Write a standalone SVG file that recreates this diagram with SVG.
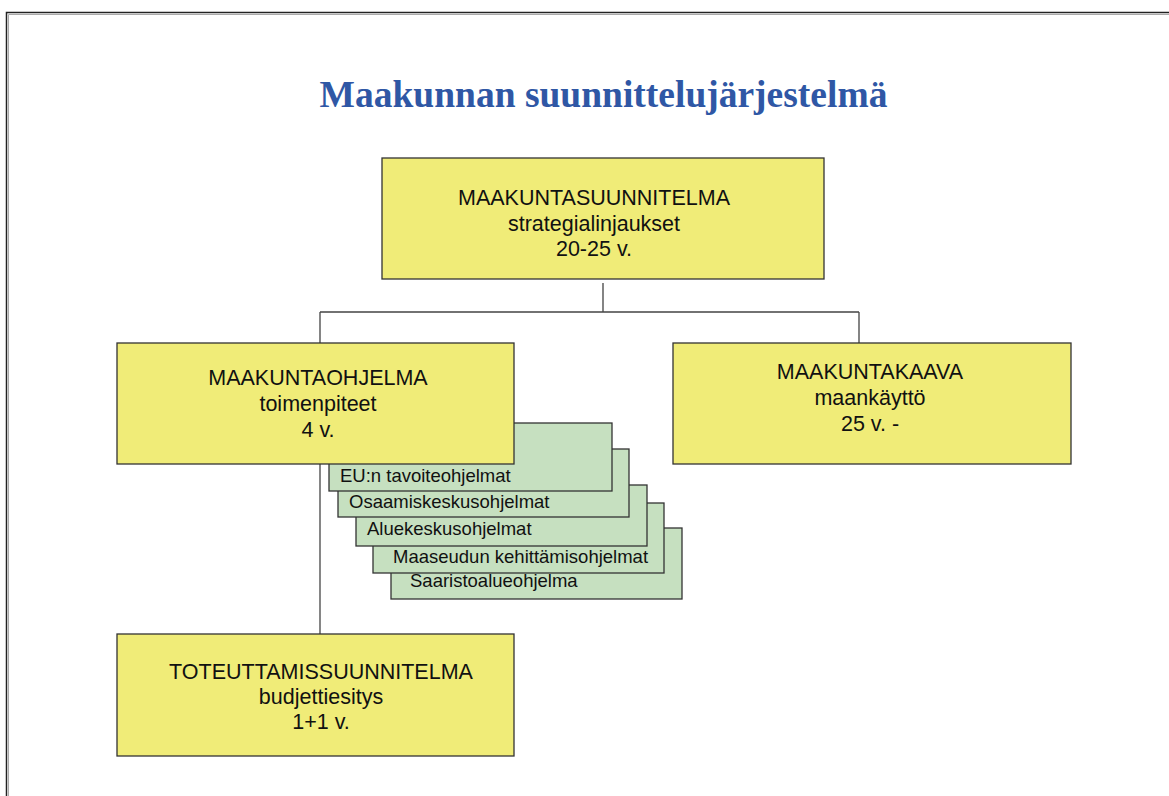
<svg xmlns="http://www.w3.org/2000/svg" width="1169" height="796" viewBox="0 0 1169 796">
<style>
.frame{fill:none;stroke:#222;stroke-width:1.5}
.frame2{fill:none;stroke:#aaa;stroke-width:1}
.y{fill:#F0EC78;stroke:#333;stroke-width:1.3}
.g{fill:#C6E0C0;stroke:#333;stroke-width:1.3}
.conn{fill:none;stroke:#444;stroke-width:1.3}
.t{font-family:"Liberation Sans",Arial,sans-serif;font-size:21.5px;fill:#111;text-anchor:middle}
.gt{font-family:"Liberation Sans",Arial,sans-serif;font-size:18.5px;fill:#111}
.title{font-family:"Liberation Serif","Times New Roman",serif;font-weight:bold;font-size:37.5px;fill:#2F57A5;text-anchor:middle}
</style>
<rect width="1169" height="796" fill="#fff"/>
<rect class="frame" x="6.5" y="12.5" width="1200" height="820"/>
<path class="frame2" d="M8.5 832V14.5H1200"/>
<text class="title" x="603.5" y="107">Maakunnan suunnittelujärjestelmä</text>
<g id="connectors">
<path class="conn" d="M603 283V312M320 312H859M320 312V343M859 312V343"/>
<path class="conn" d="M320 464V634"/>
</g>
<g id="top">
<rect class="y" x="382" y="158" width="442" height="121"/>
<text class="t" x="594" y="205">MAAKUNTASUUNNITELMA</text>
<text class="t" x="594" y="230.5">strategialinjaukset</text>
<text class="t" x="594" y="256">20-25 v.</text>
</g>
<g id="kaava">
<rect class="y" x="673" y="343" width="398" height="121"/>
<text class="t" x="870" y="379">MAAKUNTAKAAVA</text>
<text class="t" x="870" y="405">maankäyttö</text>
<text class="t" x="870" y="431">25 v. -</text>
</g>
<g id="saaristo">
<rect class="g" x="391" y="528" width="291" height="71"/>
<text class="gt" x="410" y="587">Saaristoalueohjelma</text>
</g>
<g id="maaseutu">
<rect class="g" x="373" y="503" width="291" height="70"/>
<text class="gt" x="393" y="563">Maaseudun kehittämisohjelmat</text>
</g>
<g id="aluekeskus">
<rect class="g" x="356" y="485" width="291" height="61"/>
<text class="gt" x="367" y="535">Aluekeskusohjelmat</text>
</g>
<g id="osaamis">
<rect class="g" x="338" y="449" width="291" height="68"/>
<text class="gt" x="349" y="508">Osaamiskeskusohjelmat</text>
</g>
<g id="eu">
<rect class="g" x="329" y="423" width="283" height="68"/>
<text class="gt" x="340" y="482">EU:n tavoiteohjelmat</text>
</g>
<g id="ohjelma">
<rect class="y" x="117" y="343" width="397" height="121"/>
<text class="t" x="318" y="385">MAAKUNTAOHJELMA</text>
<text class="t" x="318" y="411">toimenpiteet</text>
<text class="t" x="318" y="437">4 v.</text>
</g>
<g id="toteutus">
<rect class="y" x="117" y="634" width="397" height="122"/>
<text class="t" x="321" y="679">TOTEUTTAMISSUUNNITELMA</text>
<text class="t" x="321" y="704">budjettiesitys</text>
<text class="t" x="321" y="729">1+1 v.</text>
</g>
</svg>
